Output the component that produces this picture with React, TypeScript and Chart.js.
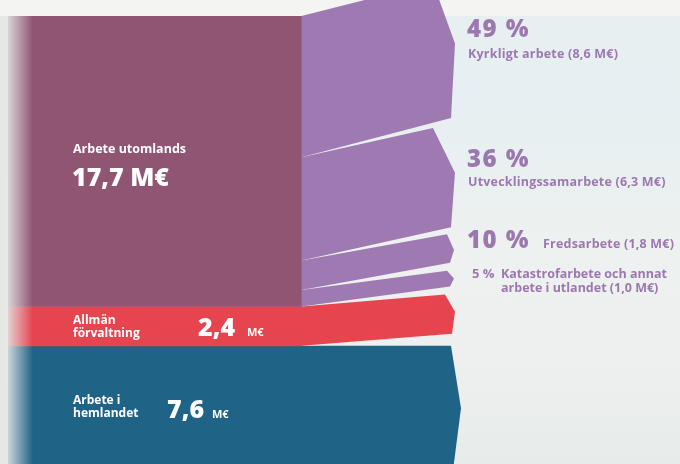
import React, { useEffect, useRef } from "react";
import { Chart, registerables } from "chart.js";

Chart.register(...registerables);

// ---- data ----
const categories = ["Arbete utomlands", "Allmän förvaltning", "Arbete i hemlandet"];
const categoryValues = [17.7, 2.4, 7.6];
const categoryColors = ["#8f5572", "#e6444f", "#1f6386"];

const abroadBranches = ["Kyrkligt arbete", "Utvecklingssamarbete", "Fredsarbete", "Katastrofarbete och annat"];
const abroadValues = [8.6, 6.3, 1.8, 1.0];
const abroadShares = [49, 36, 10, 5];
const branchColor = "#9f79b1";
const labelPurple = "#9d77b0";

// ---- layout (pixels) ----
const rightGaps = [10, 7, 8, 8, 12]; // gaps between right ends: b1|b2, b2|b3, b3|b4, b4|red, red|blue
const purpleShrink = 0.96;
const fmt = (v: number) => v.toFixed(1).replace(".", ",");

const FONT = "'Open Sans', Lato, sans-serif";

export default function App() {
  const ref = useRef<HTMLCanvasElement | null>(null);

  useEffect(() => {
    const canvas = ref.current;
    if (!canvas) return;

    const flowPlugin = {
      id: "flows",
      afterDatasetsDraw(chart: any) {
        const ctx = chart.ctx as CanvasRenderingContext2D;
        const ys = chart.scales.y;
        const xR = chart.chartArea.right;
        const px = (v: number) => ys.getPixelForValue(v);

        const poly = (
          lt: number, lb: number, rt: number, rb: number,
          depth: number, tipX: number, tipFrac: number, inset: number, color: string
        ) => {
          ctx.beginPath();
          ctx.moveTo(xR - 0.5, lt);
          ctx.lineTo(tipX - depth, rt);
          ctx.lineTo(tipX, rt + tipFrac * (rb - rt));
          ctx.lineTo(tipX - inset, rb);
          ctx.lineTo(xR - 0.5, lb);
          ctx.closePath();
          ctx.fillStyle = color;
          ctx.fill();
        };

        const abroad = categoryValues[0];
        const admin = categoryValues[1];
        const home = categoryValues[2];

        // blue (home)
        const blueTop = px(abroad + admin);
        const blueBot = px(abroad + admin + home);
        poly(blueTop, blueBot, blueTop, blueBot, 10, 461, 0.5, 8, categoryColors[2]);

        // red (admin)
        const redH = px(abroad + admin) - px(abroad);
        let rb = blueTop - rightGaps[4];
        let rt = rb - redH;
        poly(px(abroad), px(abroad + admin), rt, rb, 10, 455, 0.44, 3, categoryColors[1]);

        // purple branches, from bottom upward
        const depths = [22, 22, 7, 7];
        const tips = [455, 455, 454, 454];
        const fracs = [0.45, 0.45, 0.55, 0.5];
        const cum: number[] = [];
        let acc = 0;
        abroadValues.forEach((v) => { cum.push(acc); acc += v; });
        const rightEnds: { t: number; b: number }[] = [];
        let nextBottom = rt - rightGaps[3];
        for (let i = abroadValues.length - 1; i >= 0; i--) {
          const h = (px(cum[i] + abroadValues[i]) - px(cum[i])) * purpleShrink;
          const b = nextBottom;
          const t = b - h;
          rightEnds[i] = { t, b };
          if (i > 0) nextBottom = t - rightGaps[i - 1];
        }
        for (let i = 0; i < abroadValues.length; i++) {
          poly(px(cum[i]), px(cum[i] + abroadValues[i]), rightEnds[i].t, rightEnds[i].b,
            depths[i], tips[i], fracs[i], 4, branchColor);
        }

        // left fade
        const top = chart.chartArea.top;
        const g = ctx.createLinearGradient(4, 0, 33, 0);
        g.addColorStop(0, "rgba(229,232,229,1)");
        g.addColorStop(1, "rgba(229,232,229,0)");
        ctx.fillStyle = g;
        ctx.fillRect(0, top, 34, chart.height - top);

        // ---- texts ----
        const c2: any = ctx;
        ctx.textBaseline = "alphabetic";
        ctx.textAlign = "left";
        ctx.fillStyle = "#ffffff";
        ctx.font = `bold 12.5px ${FONT}`;
        ctx.fillText(categories[0], 73, 153);
        ctx.font = `800 25px ${FONT}`;
        ctx.fillText(`${fmt(abroad)} M€`, 72, 186);

        ctx.font = `bold 12px ${FONT}`;
        ctx.fillText("Allmän", 73, 324);
        ctx.fillText("förvaltning", 73, 337);
        ctx.font = `800 25px ${FONT}`;
        ctx.fillText(fmt(admin), 198, 336);
        ctx.font = `bold 11px ${FONT}`;
        ctx.fillText("M€", 247, 336);

        ctx.font = `bold 12px ${FONT}`;
        ctx.fillText("Arbete i", 73, 404);
        ctx.fillText("hemlandet", 73, 417);
        ctx.font = `800 25px ${FONT}`;
        ctx.fillText(fmt(home), 167, 418);
        ctx.font = `bold 11px ${FONT}`;
        ctx.fillText("M€", 212, 418);

        // right labels
        ctx.fillStyle = labelPurple;
        const big = (t: string, x: number, y: number) => {
          ctx.font = `800 24px ${FONT}`;
          c2.letterSpacing = "1.5px";
          ctx.fillText(t, x, y);
          c2.letterSpacing = "0px";
        };
        const small = (t: string, x: number, y: number) => {
          ctx.font = `bold 12.5px ${FONT}`;
          c2.letterSpacing = "0.2px";
          ctx.fillText(t, x, y);
          c2.letterSpacing = "0px";
        };
        big(`${abroadShares[0]} %`, 467, 37);
        small(`${abroadBranches[0]} (${fmt(abroadValues[0])} M€)`, 468, 58);

        big(`${abroadShares[1]} %`, 467, 167);
        small(`${abroadBranches[1]} (${fmt(abroadValues[1])} M€)`, 468, 186);

        big(`${abroadShares[2]} %`, 467, 248);
        small(`${abroadBranches[2]} (${fmt(abroadValues[2])} M€)`, 543, 248);

        ctx.font = `bold 13px ${FONT}`;
        ctx.fillText(`${abroadShares[3]} %`, 472, 278);
        ctx.font = `bold 12.5px ${FONT}`;
        ctx.fillText(abroadBranches[3], 501, 278);
        ctx.fillText(`arbete i utlandet (${fmt(abroadValues[3])} M€)`, 501, 292);
      },
    };

    const chart = new Chart(canvas, {
      type: "bar",
      data: {
        labels: ["Totalt"],
        datasets: categories.map((c, i) => ({
          label: c,
          data: [categoryValues[i]],
          backgroundColor: categoryColors[i],
          borderWidth: 0,
          barPercentage: 1,
          categoryPercentage: 1,
          stack: "s",
        })),
      },
      options: {
        responsive: false,
        animation: false,
        layout: { padding: { left: 8, right: 378, top: 16, bottom: 0 } },
        scales: {
          x: { display: false, stacked: true },
          y: { display: false, stacked: true, reverse: true, min: 0, max: 27.3 },
        },
        plugins: { legend: { display: false }, tooltip: { enabled: false } },
      },
      plugins: [flowPlugin],
    });
    return () => chart.destroy();
  }, []);

  return (
    <div
      style={{
        position: "absolute",
        left: 0,
        top: 0,
        width: 680,
        height: 464,
        overflow: "hidden",
        background:
          "linear-gradient(to bottom, #f4f4f2 0px, #f4f4f2 16px, #e7eff1 16px, #e6eff1 110px, #edf1ef 240px, #edf0ee 360px, #e7ebea 464px)",
      }}
    >
      <canvas ref={ref} width={680} height={464} style={{ display: "block" }} />
    </div>
  );
}
